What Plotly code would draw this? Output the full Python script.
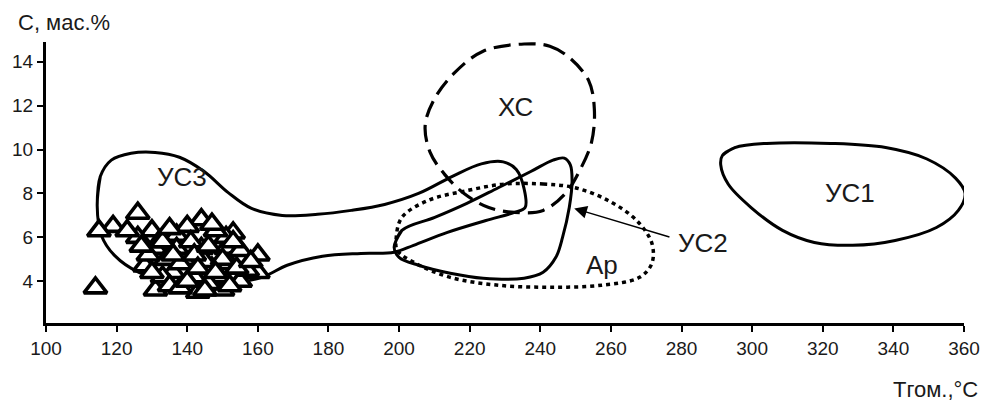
import plotly.graph_objects as go

# ---- axes ----
x_ticks = list(range(100, 361, 20))
y_ticks = [4, 6, 8, 10, 12, 14]

# ---- field outlines (T, °C ; C, mass %) ----
us1_t = [291.6, 295.1, 304.1, 322.2, 337.8, 349.5, 357.6, 360.3, 358.4, 352.2,
         340.5, 328.5, 317.6, 308.6, 299.7, 293.2, 291.1]
us1_c = [9.74, 10.09, 10.28, 10.28, 10.09, 9.57, 8.70, 8.00, 7.23, 6.45,
         5.86, 5.64, 5.77, 6.32, 7.36, 8.43, 9.30]

xc_t = [235.4, 242.7, 248.2, 253.7, 255.3, 254.5, 251.0, 247.1, 240.8, 232.7,
        225.4, 218.4, 212.9, 208.8, 207.4, 210.1, 215.6, 223.8, 235.4]
xc_c = [14.81, 14.71, 14.19, 13.14, 11.86, 10.33, 9.00, 8.00, 7.23, 7.14,
        7.36, 8.00, 8.87, 9.87, 11.12, 12.33, 13.48, 14.48, 14.81]

ar_t = [230.0, 240.8, 249.9, 259.2, 267.3, 271.6, 271.6, 268.1, 257.3, 242.7,
        228.1, 214.5, 204.7, 199.5, 199.2, 200.8, 208.2, 219.2, 230.0]
ar_c = [8.43, 8.43, 8.26, 7.68, 6.77, 5.73, 4.82, 4.18, 3.82, 3.73,
        3.82, 4.18, 4.82, 5.41, 6.00, 6.91, 7.68, 8.13, 8.43]

us2_t = [198.6, 200.8, 210.1, 219.2, 228.1, 237.3, 243.6, 246.8, 248.5, 249.0,
         248.2, 246.3, 244.4, 240.8, 235.4, 223.8, 214.5, 205.5, 200.0]
us2_c = [5.55, 6.32, 6.91, 7.55, 8.26, 9.00, 9.52, 9.61, 9.30, 8.57,
         7.36, 6.00, 5.09, 4.41, 4.14, 4.14, 4.37, 4.73, 5.09]

us3_t = [114.5, 115.4, 118.5, 124.1, 130.9, 137.8, 144.8, 151.6, 158.2, 166.9,
         176.9, 186.5, 195.9, 205.5, 215.1, 223.3, 229.5, 233.2, 235.4, 235.7,
         232.7, 224.6, 213.7, 204.1, 198.6, 189.2, 178.3, 168.3, 161.1, 149.3,
         137.2, 126.3, 119.4, 115.7]
us3_c = [7.45, 8.78, 9.52, 9.83, 9.87, 9.65, 9.00, 8.04, 7.32, 7.00,
         7.05, 7.23, 7.50, 8.00, 8.78, 9.35, 9.44, 9.09, 8.22, 7.36,
         7.14, 6.77, 6.23, 5.64, 5.32, 5.27, 5.14, 4.73, 4.18, 3.86,
         3.95, 4.41, 5.18, 6.09]

# ---- inclusion measurements ----
pts_t = [114, 126, 119, 115, 130, 144, 153, 160, 160, 137, 131, 128, 131, 136,
         143, 150, 151, 155, 147, 144, 139, 134, 142, 149, 155, 137, 157, 126,
         140, 151, 133, 135, 146, 152, 141, 148, 132, 145, 123,
         129, 133, 138, 142, 146, 150, 154, 138, 145, 152, 135, 147, 143, 136,
         130, 158, 153, 140, 148, 127]
pts_c = [3.7, 7.1, 6.5, 6.3, 6.3, 6.8, 6.2, 5.2, 4.4, 6.1, 5.5, 4.7, 3.6, 4.4,
         3.5, 3.6, 5.5, 5.4, 4.6, 5.5, 5.0, 5.0, 4.2, 4.2, 4.0, 5.5, 4.5, 6.0,
         6.5, 6.0, 4.2, 3.8, 3.9, 4.8, 5.8, 6.3, 5.8, 4.9, 6.3,
         5.2, 5.8, 4.8, 5.2, 5.6, 5.0, 4.6, 3.7, 3.6, 3.8, 6.4, 6.6, 4.6, 5.2,
         4.4, 4.9, 5.8, 4.0, 4.4, 5.6]

labels = ["УС3", "ХС", "Ар", "УС2", "УС1"]
label_t = [138.5, 233.0, 257.5, 286.0, 327.7]
label_c = [8.75, 11.95, 4.75, 5.73, 8.0]

arrow_head = (249.6, 7.32)
arrow_tail = (277.0, 6.0)

FONT = "Liberation Sans, Arial, sans-serif"

def closed_solid(t, c):
    # repeat first two vertices so the spline runs smoothly through the join
    return t + t[:2], c + c[:2]

fig = go.Figure()

for tt, cc in [(us1_t, us1_c), (us2_t, us2_c), (us3_t, us3_c)]:
    t, c = closed_solid(tt, cc)
    fig.add_trace(go.Scatter(x=t, y=c, mode="lines",
                             line=dict(color="black", width=3, shape="spline", smoothing=1.0)))
fig.add_trace(go.Scatter(x=xc_t, y=xc_c, mode="lines",
                         line=dict(color="black", width=3.2, shape="spline", smoothing=1.0,
                                   dash="17px,8px")))
fig.add_trace(go.Scatter(x=ar_t, y=ar_c, mode="lines",
                         line=dict(color="black", width=3.5, shape="spline", smoothing=1.0,
                                   dash="4px,4px")))

fig.add_trace(go.Scatter(x=pts_t, y=pts_c, mode="markers",
                         marker=dict(symbol="triangle-up", size=20, color="white",
                                     line=dict(color="black", width=3.6))))

for txt, tx, cy in zip(labels, label_t, label_c):
    fig.add_annotation(x=tx, y=cy, text=txt, showarrow=False,
                       font=dict(family=FONT, size=26, color="#1a1a1a"))

fig.add_annotation(x=arrow_head[0], y=arrow_head[1], ax=arrow_tail[0], ay=arrow_tail[1],
                   axref="x", ayref="y", xref="x", yref="y", text="", showarrow=True,
                   arrowhead=2, arrowsize=1.7, arrowwidth=1.5, arrowcolor="black")

fig.add_annotation(xref="paper", yref="paper", x=-0.033, y=1.071, xanchor="left",
                   yanchor="middle", text="С, мас.%", showarrow=False,
                   font=dict(family=FONT, size=22, color="#1a1a1a"))
fig.add_annotation(xref="paper", yref="paper", x=1.0172, y=-0.235, xanchor="right",
                   yanchor="middle", text="Тгом.,°С", showarrow=False,
                   font=dict(family=FONT, size=22, color="#1a1a1a"))

axis_common = dict(showgrid=False, zeroline=False, showline=True, linecolor="black",
                   linewidth=3, ticks="outside", ticklen=6, tickwidth=2,
                   tickcolor="black", tickfont=dict(family=FONT, size=19, color="#1a1a1a"))

fig.update_xaxes(range=[100, 360], tickvals=x_ticks, **axis_common)
fig.update_yaxes(range=[2.1, 14.9], tickvals=y_ticks, **axis_common)

fig.update_layout(width=992, height=404, margin=dict(l=40, r=23, t=42, b=81),
                  paper_bgcolor="white", plot_bgcolor="white", showlegend=False)

fig.write_html("out.html")
